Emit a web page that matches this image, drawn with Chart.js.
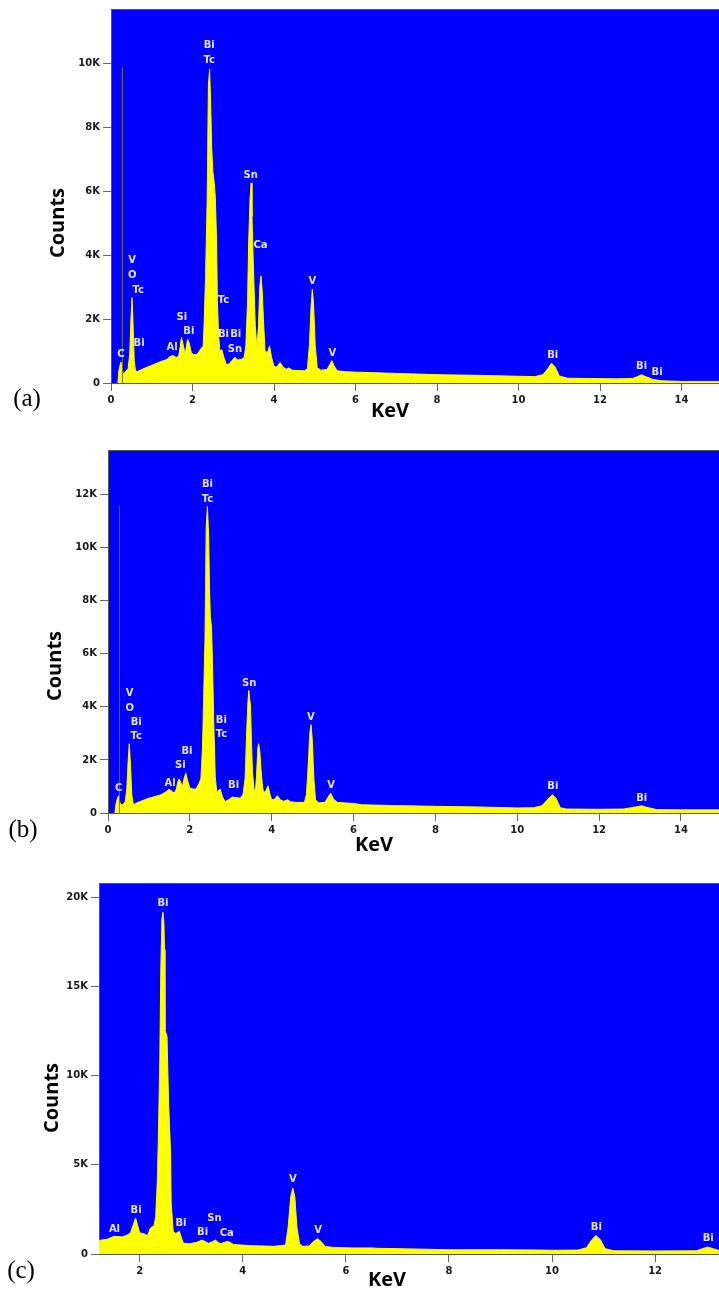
<!DOCTYPE html>
<html>
<head>
<meta charset="utf-8">
<script src="https://cdn.jsdelivr.net/npm/chart.js@4.4.0/dist/chart.umd.min.js"></script>
<style>
  body { margin: 0; background: #fff; }
  canvas { position: absolute; left: 0; }
</style>
</head>
<body>
<canvas id="chartA" width="719" height="430" style="top:0px"></canvas>
<canvas id="chartB" width="719" height="430" style="top:430px"></canvas>
<canvas id="chartC" width="719" height="431" style="top:860px"></canvas>
<script>
// spectrum (a)
var energyA = [0.17, 0.19, 0.22, 0.245, 0.27, 0.30, 0.33, 0.36, 0.42, 0.46, 0.49, 0.515, 0.54, 0.57, 0.60, 0.65, 0.75, 0.9, 1.05, 1.2,
  1.36, 1.45, 1.52, 1.6, 1.66, 1.70, 1.73, 1.77, 1.82, 1.85, 1.88, 1.92, 1.97, 2.03, 2.12, 2.2, 2.26, 2.29, 2.32, 2.36,
  2.39, 2.42, 2.45, 2.47, 2.50, 2.53, 2.56, 2.59, 2.61, 2.64, 2.67, 2.72, 2.77, 2.84, 2.9, 2.97, 3.04, 3.1, 3.2, 3.27,
  3.31, 3.35, 3.38, 3.41, 3.44, 3.46, 3.48, 3.51, 3.54, 3.58, 3.62, 3.65, 3.68, 3.71, 3.74, 3.78, 3.84, 3.89, 3.94, 4.0,
  4.07, 4.15, 4.22, 4.3, 4.36, 4.45, 4.6, 4.75, 4.82, 4.87, 4.91, 4.94, 4.97, 5.01, 5.06, 5.15, 5.3, 5.38, 5.42, 5.47,
  5.55, 5.8, 6.0, 6.5, 7.0, 7.5, 8.0, 9.0, 10.0, 10.4, 10.6, 10.72, 10.81, 10.9, 11.0, 11.2, 11.8, 12.4, 12.8, 12.92,
  13.02, 13.12, 13.3, 13.5, 14.0, 14.92];
var countsA = [0, 350, 550, 660, 520, 250, 330, 360, 450, 900, 2000, 2670, 1900, 700, 380, 360, 420, 500, 580, 660,
  730, 830, 860, 800, 840, 1150, 1430, 1200, 880, 1150, 1370, 1250, 950, 880, 900, 1060, 1150, 2000, 3330, 5720,
  9300, 9820, 8500, 7380, 6600, 6300, 5800, 4500, 2600, 1500, 1000, 1040, 800, 560, 600, 700, 810, 720, 740, 800,
  1200, 2500, 4470, 5720, 6260, 5200, 4260, 3000, 1800, 1100, 1800, 3000, 3350, 2900, 2000, 1000, 950, 1160, 800, 520,
  500, 640, 500, 430, 470, 400, 390, 380, 450, 1200, 2400, 2930, 2500, 1200, 480, 400, 420, 600, 700, 550,
  380, 350, 340, 320, 300, 280, 260, 240, 210, 200, 260, 450, 620, 500, 220, 150, 140, 130, 140, 200,
  260, 200, 110, 70, 50, 50];

// spectrum (b)
var energyB = [0.17, 0.19, 0.23, 0.26, 0.29, 0.32, 0.37, 0.42, 0.46, 0.49, 0.52, 0.55, 0.58, 0.62, 0.7, 0.8, 0.9, 1.0, 1.15, 1.3,
  1.42, 1.49, 1.56, 1.62, 1.67, 1.71, 1.74, 1.78, 1.82, 1.86, 1.9, 1.94, 2.0, 2.08, 2.15, 2.22, 2.27, 2.31, 2.34, 2.37,
  2.40, 2.43, 2.46, 2.48, 2.50, 2.53, 2.56, 2.58, 2.62, 2.66, 2.70, 2.74, 2.8, 2.86, 2.95, 3.04, 3.12, 3.23, 3.3, 3.35,
  3.39, 3.42, 3.44, 3.46, 3.48, 3.51, 3.53, 3.57, 3.60, 3.63, 3.66, 3.68, 3.71, 3.74, 3.77, 3.80, 3.86, 3.91, 3.96, 4.0,
  4.07, 4.14, 4.21, 4.29, 4.39, 4.46, 4.6, 4.8, 4.85, 4.9, 4.93, 4.96, 4.99, 5.03, 5.07, 5.15, 5.3, 5.38, 5.44, 5.5,
  5.6, 5.8, 6.0, 6.2, 7.0, 8.0, 9.0, 10.0, 10.4, 10.6, 10.75, 10.86, 10.95, 11.05, 11.2, 12.0, 12.6, 12.9, 13.04, 13.15,
  13.4, 14.0, 14.93];
var countsB = [0, 300, 550, 650, 400, 310, 330, 420, 900, 1900, 2610, 1800, 700, 310, 380, 440, 500, 560, 620, 690,
  800, 900, 820, 750, 900, 1200, 1280, 1150, 1000, 1300, 1510, 1250, 940, 900, 900, 1100, 1280, 2500, 4500, 6530,
  10800, 11550, 10400, 8500, 7400, 7000, 5200, 3640, 1380, 750, 850, 900, 600, 430, 500, 600, 580, 560, 700, 1300,
  3100, 4200, 4620, 4300, 4100, 2500, 1500, 900, 750, 1400, 2400, 2610, 2300, 1620, 1100, 750, 850, 1020, 700, 500,
  520, 650, 500, 440, 500, 420, 400, 400, 700, 2000, 3000, 3330, 2800, 1300, 500, 380, 400, 600, 750, 550,
  400, 380, 360, 310, 280, 250, 230, 190, 200, 270, 520, 690, 550, 200, 150, 140, 150, 230, 270, 220,
  130, 120, 120];

// spectrum (c)
var energyC = [1.21, 1.37, 1.5, 1.66, 1.75, 1.82, 1.87, 1.92, 1.96, 2.0, 2.08, 2.15, 2.21, 2.28, 2.31, 2.34, 2.36, 2.39, 2.41, 2.43,
  2.45, 2.47, 2.48, 2.49, 2.53, 2.56, 2.60, 2.61, 2.65, 2.70, 2.77, 2.81, 2.85, 2.97, 3.1, 3.21, 3.3, 3.34, 3.42, 3.47,
  3.52, 3.57, 3.65, 3.71, 3.77, 3.82, 4.14, 4.6, 4.83, 4.88, 4.93, 4.97, 5.01, 5.05, 5.10, 5.16, 5.29, 5.37, 5.45, 5.52,
  5.60, 5.76, 6.1, 6.5, 6.6, 7.0, 8.0, 9.0, 9.8, 10.0, 10.5, 10.67, 10.76, 10.85, 10.94, 11.03, 11.2, 12.0, 12.8, 12.92,
  13.02, 13.12, 13.24];
var countsC = [760, 830, 990, 960, 1050, 1180, 1600, 2020, 1600, 1180, 1140, 1030, 1460, 1590, 2100, 4000, 6220, 10990, 16040, 18750,
  19160, 18500, 17070, 12550, 12200, 8470, 5660, 2880, 1270, 1150, 1270, 900, 600, 580, 650, 780, 650, 600, 700, 780,
  650, 580, 660, 710, 620, 530, 470, 430, 500, 1500, 3200, 3700, 3200, 1500, 600, 430, 450, 700, 860, 700,
  420, 370, 340, 340, 320, 300, 240, 240, 220, 210, 220, 350, 750, 1040, 800, 300, 180, 170, 180, 300,
  390, 300, 200];

// thin detector marker lines (a) and (b): keV, top counts
var markerA = [0.28, 9870];
var markerB = [0.28, 11570];

// y tick values
var yTicksA = [0, 2000, 4000, 6000, 8000, 10000];
var yTicksB = [0, 2000, 4000, 6000, 8000, 10000, 12000];
var yTicksC = [0, 5000, 10000, 15000, 20000];

// peak labels: text, keV, counts
var peaksA = [
  ["C", 0.245, 900], ["V", 0.52, 3850], ["O", 0.52, 3380], ["Tc", 0.67, 2910], ["Bi", 0.69, 1250],
  ["Al", 1.50, 1110], ["Si", 1.74, 2060], ["Bi", 1.91, 1610], ["Bi", 2.41, 10550], ["Tc", 2.41, 10080],
  ["Tc", 2.76, 2570], ["Bi", 2.76, 1530], ["Bi", 3.06, 1530], ["Sn", 3.04, 1060], ["Sn", 3.43, 6500],
  ["Ca", 3.67, 4310], ["V", 4.94, 3170], ["V", 5.43, 940], ["Bi", 10.84, 860], ["Bi", 13.02, 520], ["Bi", 13.40, 340]
];
var peaksB = [
  ["C", 0.26, 940], ["V", 0.53, 4490], ["O", 0.53, 3950], ["Bi", 0.69, 3410], ["Tc", 0.69, 2890],
  ["Al", 1.52, 1130], ["Si", 1.77, 1780], ["Bi", 1.93, 2320], ["Bi", 2.43, 12390], ["Tc", 2.43, 11830],
  ["Bi", 2.77, 3490], ["Tc", 2.77, 2950], ["Bi", 3.07, 1030], ["Sn", 3.45, 4900], ["V", 4.96, 3620],
  ["V", 5.45, 1030], ["Bi", 10.87, 1000], ["Bi", 13.04, 560]
];
var peaksC = [
  ["Al", 1.51, 1400], ["Bi", 1.93, 2430], ["Bi", 2.45, 19630], ["Bi", 2.80, 1700], ["Bi", 3.22, 1210],
  ["Sn", 3.45, 2020], ["Ca", 3.69, 1140], ["V", 4.97, 4170], ["V", 5.46, 1310], ["Bi", 10.86, 1490], ["Bi", 13.03, 860]
];

var panelPlugin = {
  id: "panel",
  beforeDraw: function (chart, args, opts) {
    var ctx = chart.ctx, a = chart.chartArea;
    ctx.save();
    ctx.fillStyle = "#0000ff";
    ctx.fillRect(a.left, a.top, a.right - a.left, a.bottom - a.top);
    ctx.strokeStyle = "#555";
    ctx.lineWidth = 1;
    ctx.beginPath();
    ctx.moveTo(a.left, a.top + 0.5);
    ctx.lineTo(a.right, a.top + 0.5);
    ctx.stroke();
    ctx.restore();
  },
  afterDatasetsDraw: function (chart, args, opts) {
    var ctx = chart.ctx;
    var xs = chart.scales.x, ys = chart.scales.y;
    ctx.save();
    ctx.fillStyle = "#e4e4ff";
    ctx.font = "bold 10px 'DejaVu Sans'";
    ctx.textAlign = "center";
    ctx.textBaseline = "middle";
    opts.peaks.forEach(function (p) {
      ctx.fillText(p[0], xs.getPixelForValue(p[1]), ys.getPixelForValue(p[2]));
    });
    ctx.restore();
  },
  afterDraw: function (chart, args, opts) {
    var ctx = chart.ctx;
    ctx.save();
    ctx.fillStyle = "#000";
    ctx.textAlign = "center";
    ctx.textBaseline = "middle";
    ctx.font = "bold 20px 'Open Sans'";
    ctx.save();
    ctx.translate(opts.counts[0], opts.counts[1]);
    ctx.rotate(-Math.PI / 2);
    ctx.fillText("Counts", 0, 0);
    ctx.restore();
    ctx.fillText("KeV", opts.kev[0], opts.kev[1]);
    ctx.font = "25px 'Liberation Serif'";
    ctx.fillText(opts.tag, opts.tagPos[0], opts.tagPos[1]);
    ctx.restore();
  }
};

function makeChart(id, energy, counts, marker, peaks, area, xRange, yMax, yTicks, text) {
  var datasets = [];
  if (marker) {
    datasets.push({
      data: [{ x: marker[0], y: 0 }, { x: marker[0], y: marker[1] }],
      borderColor: "#6e6e50",
      borderWidth: 1,
      pointRadius: 0,
      fill: false
    });
  }
  datasets.push({
    data: energy.map(function (e, i) { return { x: e, y: counts[i] }; }),
    borderColor: "#ffff00",
    backgroundColor: "#ffff00",
    borderWidth: 1,
    pointRadius: 0,
    tension: 0,
    fill: "origin"
  });
  var canvas = document.getElementById(id);
  var tickFont = { family: "'DejaVu Sans'", size: 10, weight: "bold" };
  return new Chart(canvas.getContext("2d"), {
    type: "line",
    data: { datasets: datasets },
    options: {
      responsive: false,
      animation: false,
      devicePixelRatio: 1,
      layout: { padding: { top: area.top, left: 0, right: 0, bottom: 0 } },
      plugins: {
        legend: { display: false },
        tooltip: { enabled: false },
        panel: { peaks: peaks, counts: text.counts, kev: text.kev, tag: text.tag, tagPos: text.tagPos }
      },
      scales: {
        x: {
          type: "linear",
          min: xRange[0],
          max: xRange[1],
          afterFit: function (s) { s.height = canvas.height - area.bottom; },
          ticks: { stepSize: 2, includeBounds: false, color: "#1a1a1a", font: tickFont, padding: 3, maxRotation: 0 },
          grid: { drawOnChartArea: false, tickLength: 8, color: "#666" },
          border: { color: "#555" }
        },
        y: {
          min: 0,
          max: yMax,
          afterFit: function (s) { s.width = area.left; },
          afterBuildTicks: function (s) {
            s.ticks = yTicks.map(function (v) { return { value: v }; });
          },
          ticks: {
            color: "#1a1a1a",
            font: tickFont,
            padding: 3,
            callback: function (v) { return v === 0 ? "0" : (v / 1000) + "K"; }
          },
          grid: { drawOnChartArea: false, tickLength: 8, color: "#666" },
          border: { color: "#555" }
        }
      }
    },
    plugins: [panelPlugin]
  });
}

makeChart("chartA", energyA, countsA, markerA, peaksA,
  { left: 111, top: 8, bottom: 383 }, [0, 14.92], 11700, yTicksA,
  { counts: [58, 223], kev: [390, 411], tag: "(a)", tagPos: [27, 399] });
makeChart("chartB", energyB, countsB, markerB, peaksB,
  { left: 108, top: 20, bottom: 383 }, [0, 14.93], 13680, yTicksB,
  { counts: [55, 236], kev: [374, 415], tag: "(b)", tagPos: [23, 400] });
makeChart("chartC", energyC, countsC, null, peaksC,
  { left: 99, top: 23, bottom: 394 }, [1.21, 13.24], 20800, yTicksC,
  { counts: [52, 238], kev: [387, 420], tag: "(c)", tagPos: [21, 411] });
</script>
</body>
</html>
